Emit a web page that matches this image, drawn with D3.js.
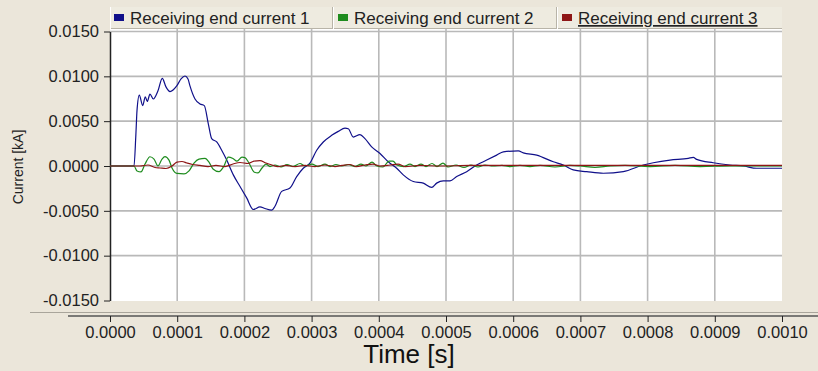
<!DOCTYPE html>
<html>
<head>
<meta charset="utf-8">
<script src="https://cdn.jsdelivr.net/npm/d3@7"></script>
<style>
  body { margin: 0; background: #ebe6da; }
  svg { display: block; font-family: "Liberation Sans", Arial, sans-serif; }
</style>
</head>
<body>
<svg id="chart" width="818" height="371"></svg>
<script>
// series names for the legend
var seriesNames = ["Receiving end current 1", "Receiving end current 2", "Receiving end current 3"];
var seriesColors = ["#10108a", "#1e8c1e", "#8e1616"];

// Receiving end current 1 (time in s, current in kA)
var time1 = [0, 35.7e-6, 38.5e-6, 40.2e-6, 43.6e-6, 48.7e-6, 52.5e-6, 55.5e-6, 59.5e-6, 64.4e-6, 71.4e-6, 77.8e-6,
    83.3e-6, 89.3e-6, 99.3e-6, 105.7e-6, 111.6e-6, 116.1e-6, 119.0e-6, 126.5e-6, 133.9e-6, 140.3e-6, 146.3e-6,
    151.3e-6, 158.8e-6, 166.2e-6, 173.7e-6, 183.5e-6, 193.5e-6, 203.4e-6, 213.2e-6, 223.2e-6, 230.6e-6, 240.6e-6,
    245.5e-6, 255.5e-6, 267.8e-6, 277.8e-6, 287.6e-6, 297.5e-6, 307.6e-6, 317.4e-6, 329.9e-6, 339.7e-6, 349.7e-6,
    354.6e-6, 362.0e-6, 372.0e-6, 379.4e-6, 389.4e-6, 401.8e-6, 414.1e-6, 426.6e-6, 436.4e-6, 451.3e-6, 466.2e-6,
    478.7e-6, 486.1e-6, 496.0e-6, 506.0e-6, 515.9e-6, 530.8e-6, 545.7e-6, 560.6e-6, 575.4e-6, 585.3e-6, 607.6e-6,
    615.0e-6, 635.0e-6, 659.7e-6, 674.6e-6, 689.4e-6, 709.3e-6, 734.1e-6, 763.8e-6, 793.6e-6, 808.5e-6, 833.3e-6,
    860.6e-6, 868.0e-6, 873.0e-6, 897.7e-6, 922.6e-6, 942.4e-6, 962.3e-6, 1000e-6];
var current1 = [0, 0, 0.0035, 0.0062, 0.0079, 0.00673, 0.00772, 0.0072, 0.00802, 0.00747, 0.00838, 0.00978,
    0.00882, 0.0083, 0.00893, 0.00971, 0.01004, 0.00971, 0.00893, 0.00747, 0.00692, 0.00673, 0.00471,
    0.00305, 0.00268, 0.00176, 0.00066, -0.00099, -0.00228, -0.00356, -0.00485, -0.00455, -0.00474, -0.00493,
    -0.00449, -0.00283, -0.00246, -0.00118, -0.00025, 0.00033, 0.00176, 0.00268, 0.00342, 0.00386, 0.00422,
    0.00416, 0.00323, 0.0035, 0.00305, 0.00213, 0.0014, 0.00047, -0.00025, -0.00099, -0.00173, -0.00191,
    -0.00239, -0.00191, -0.00165, -0.00165, -0.00118, -0.00063, 0.00011, 0.00066, 0.00121, 0.00158, 0.00169,
    0.00147, 0.00121, 0.00047, 0.00011, -0.00044, -0.00063, -0.00081, -0.00063, 0.00011, 0.00036, 0.00066,
    0.00085, 0.00096, 0.00074, 0.00036, 0.00011, 0, -0.00025, -0.00025];

// Receiving end current 2
var time2 = [0, 35.7e-6, 40.2e-6, 46.1e-6, 52.1e-6, 59.5e-6, 65.5e-6, 71.4e-6, 77.4e-6, 81.8e-6, 87.8e-6, 92.3e-6,
    99.7e-6, 110.1e-6, 117.6e-6, 125.0e-6, 132.4e-6, 141.4e-6, 147.3e-6, 153.3e-6, 162.2e-6, 169.6e-6, 176.0e-6,
    183.0e-6, 189.0e-6, 196.4e-6, 200.9e-6, 206.8e-6, 214.3e-6, 220.2e-6, 226.2e-6, 232.1e-6, 238.1e-6, 245.5e-6,
    254.5e-6, 263.4e-6, 272.3e-6, 282.7e-6, 290.2e-6, 300.6e-6, 309.5e-6, 319.9e-6, 327.4e-6, 336.3e-6, 345.2e-6,
    354.2e-6, 364.6e-6, 373.5e-6, 381.0e-6, 389.9e-6, 397.3e-6, 406.2e-6, 415.2e-6, 421.1e-6, 427.1e-6, 437.5e-6,
    446.4e-6, 453.9e-6, 462.8e-6, 470.2e-6, 479.2e-6, 486.6e-6, 495.5e-6, 503.0e-6, 514.9e-6, 526.8e-6, 537.2e-6,
    547.6e-6, 558.0e-6, 569.9e-6, 583.3e-6, 595.2e-6, 610.1e-6, 625.0e-6, 639.9e-6, 662.2e-6, 684.5e-6, 699.4e-6,
    721.7e-6, 744.0e-6, 766.4e-6, 803.6e-6, 840.8e-6, 878.0e-6, 922.6e-6, 1000e-6];
var current2 = [0, 0, -0.00055, -0.00066, 0.00022, 0.00103, 0.00077, 0, 0.00077, 0.00105, 0.00066, -0.00022,
    -0.00083, -0.00088, -0.00055, 0.00033, 0.00077, 0.00085, 0.00044, -0.00033, -0.00063, 0, 0.00099,
    0.00083, 0.00055, 0.00099, 0.00094, 0.00033, -0.00066, -0.00077, -0.00022, 0.00022, -0.00006, 0.00011,
    -0.00011, 0.00017, -0.00006, 0.00028, 0, 0.00022, -0.00006, 0.00022, -0.00006, 0.00017, 0,
    0.00017, -0.00006, 0.00022, 0, 0.00044, 0, -0.00011, 0.00055, 0.00055, 0.00011, -0.00006,
    0.00022, -0.00006, 0.00022, -0.00006, 0.00028, -0.00006, 0.00033, -0.00011, 0.00011, -0.00017, 0.00011,
    -0.00011, 0.00011, 0, 0.00006, -0.00006, 0.00006, -0.00006, 0.00006, -0.00011, 0.00006, 0,
    -0.00017, 0, 0.00006, -0.00006, 0.00006, -0.00006, 0, 0];

// Receiving end current 3
var time3 = [0, 35.7e-6, 44.6e-6, 56.5e-6, 67.0e-6, 74.4e-6, 83.3e-6, 92.3e-6, 99.7e-6, 107.1e-6, 114.6e-6, 122.9e-6,
    133.9e-6, 145.8e-6, 157.7e-6, 171.1e-6, 183.0e-6, 193.5e-6, 205.4e-6, 214.3e-6, 223.2e-6, 232.1e-6, 241.1e-6,
    250.0e-6, 261.9e-6, 275.3e-6, 290.2e-6, 305.1e-6, 319.9e-6, 334.8e-6, 345.2e-6, 357.1e-6, 366.1e-6, 379.5e-6,
    391.4e-6, 401.8e-6, 416.7e-6, 428.6e-6, 439.0e-6, 461.3e-6, 491.1e-6, 535.7e-6, 1000e-6];
var current3 = [0, 0, 0, 0.00011, -0.00017, -0.00022, -0.00028, 0, 0.00044, 0.0005, 0.00033, 0.00017,
    0.00006, -0.00006, 0.00006, -0.00006, 0.00022, 0.00039, 0.00028, 0.00055, 0.00061, 0.00033, 0.00011,
    -0.00006, 0.00006, -0.00006, 0.00006, -0.00006, 0.00011, -0.00006, 0.00006, 0.00017, -0.00006, 0.00011,
    0.00022, 0, 0.00011, 0.00022, -0.00006, 0.00006, 0, 0.00006, 0.00006];

var xTicks = [0, 0.0001, 0.0002, 0.0003, 0.0004, 0.0005, 0.0006, 0.0007, 0.0008, 0.0009, 0.0010];
var yTicks = [-0.015, -0.010, -0.005, 0, 0.005, 0.010, 0.015];

var svg = d3.select("#chart");
var plotLeft = 110, plotRight = 782, plotTop = 29, plotBottom = 301;

var x = d3.scaleLinear().domain([0, 0.001]).range([plotLeft, plotRight]);
var y = d3.scaleLinear().domain([-0.015, 0.015]).range([300.5, 31.5]);

// plain hyphen for negative labels
var fmt = d3.formatLocale({ decimal: ".", thousands: ",", grouping: [3], currency: ["", ""], minus: "-" }).format(".4f");

svg.append("rect").attr("width", 818).attr("height", 371).attr("fill", "#ebe6da");

// white plot area
svg.append("rect")
    .attr("x", plotLeft).attr("y", plotTop)
    .attr("width", plotRight - plotLeft).attr("height", plotBottom - plotTop)
    .attr("fill", "#ffffff");

// grid
var grid = svg.append("g").attr("stroke", "#b9b9b9").attr("stroke-width", 1.6);
grid.selectAll(".vg")
    .data(xTicks.slice(1, -1))
    .enter().append("line")
    .attr("x1", function(d) { return x(d); })
    .attr("x2", function(d) { return x(d); })
    .attr("y1", plotTop).attr("y2", plotBottom);
grid.selectAll(".hg")
    .data(yTicks.slice(1))
    .enter().append("line")
    .attr("x1", plotLeft).attr("x2", plotRight)
    .attr("y1", function(d) { return y(d); })
    .attr("y2", function(d) { return y(d); });

// y axis
var yAxis = d3.axisLeft(y).tickValues(yTicks).tickFormat(fmt).tickSize(6).tickSizeOuter(0);
var yg = svg.append("g").attr("transform", "translate(" + plotLeft + ",0)").call(yAxis);
yg.select(".domain").attr("stroke", "#222").attr("stroke-width", 1.5);
yg.selectAll(".tick line").attr("stroke", "#222");
yg.selectAll(".tick text")
    .attr("x", -11)
    .attr("fill", "#222")
    .style("font-size", "16.5px");

svg.append("text")
    .attr("transform", "translate(23,167) rotate(-90)")
    .attr("text-anchor", "middle")
    .attr("fill", "#222")
    .style("font-size", "14px")
    .text("Current [kA]");

// bottom separator and x axis
svg.append("line")
    .attr("x1", 30).attr("x2", 818).attr("y1", 312.5).attr("y2", 312.5)
    .attr("stroke", "#a9a59b").attr("stroke-width", 1);
var xAxis = d3.axisBottom(x).tickValues(xTicks).tickFormat(fmt).tickSize(6).tickSizeOuter(0);
var xg = svg.append("g").attr("transform", "translate(0,316)").call(xAxis);
xg.select(".domain").attr("stroke", "#555").attr("stroke-width", 1.5)
    .attr("d", "M68,0H818");
xg.selectAll(".tick line").attr("stroke", "#222");
xg.selectAll(".tick text")
    .attr("y", 10)
    .attr("fill", "#222")
    .style("font-size", "16.5px");

svg.append("text")
    .attr("x", 409).attr("y", 363)
    .attr("text-anchor", "middle")
    .attr("fill", "#111")
    .style("font-size", "26px")
    .text("Time [s]");

// curves
var series = [
    { t: time1, v: current1 },
    { t: time2, v: current2 },
    { t: time3, v: current3 }
];
var line = d3.line()
    .x(function(d) { return x(d[0]); })
    .y(function(d) { return y(d[1]); })
    .curve(d3.curveMonotoneX);

svg.append("g").selectAll("path")
    .data(series)
    .enter().append("path")
    .attr("d", function(s) { return line(d3.zip(s.t, s.v)); })
    .attr("fill", "none")
    .attr("stroke", function(s, i) { return seriesColors[i]; })
    .attr("stroke-width", 1.2);

// legend bar
var legend = svg.append("g");
legend.append("rect")
    .attr("x", plotLeft).attr("y", 7)
    .attr("width", plotRight - plotLeft).attr("height", 22)
    .attr("fill", "#eeebe0");
legend.append("line").attr("x1", plotLeft).attr("x2", plotRight).attr("y1", 28.5).attr("y2", 28.5)
    .attr("stroke", "#b8b4a8");
legend.append("line").attr("x1", plotLeft + 0.5).attr("x2", plotLeft + 0.5).attr("y1", 7).attr("y2", 29)
    .attr("stroke", "#ffffff");

var cellW = (plotRight - plotLeft) / 3;
var items = legend.selectAll(".item")
    .data(seriesNames)
    .enter().append("g")
    .attr("transform", function(d, i) { return "translate(" + (plotLeft + i * cellW) + ",0)"; });
items.filter(function(d, i) { return i > 0; })
    .append("line")
    .attr("x1", -1.5).attr("x2", -1.5).attr("y1", 7).attr("y2", 29)
    .attr("stroke", "#b8b4a8");
items.filter(function(d, i) { return i > 0; })
    .append("line")
    .attr("x1", -0.5).attr("x2", -0.5).attr("y1", 7).attr("y2", 29)
    .attr("stroke", "#ffffff");
items.append("rect")
    .attr("x", 4).attr("y", 14)
    .attr("width", 10).attr("height", 7)
    .attr("fill", function(d, i) { return seriesColors[i]; });
items.append("text")
    .attr("x", 20).attr("y", 24)
    .attr("fill", "#222")
    .style("font-size", "17px")
    .style("text-decoration", function(d, i) { return i == 2 ? "underline" : "none"; })
    .text(function(d) { return d; });
</script>
</body>
</html>
